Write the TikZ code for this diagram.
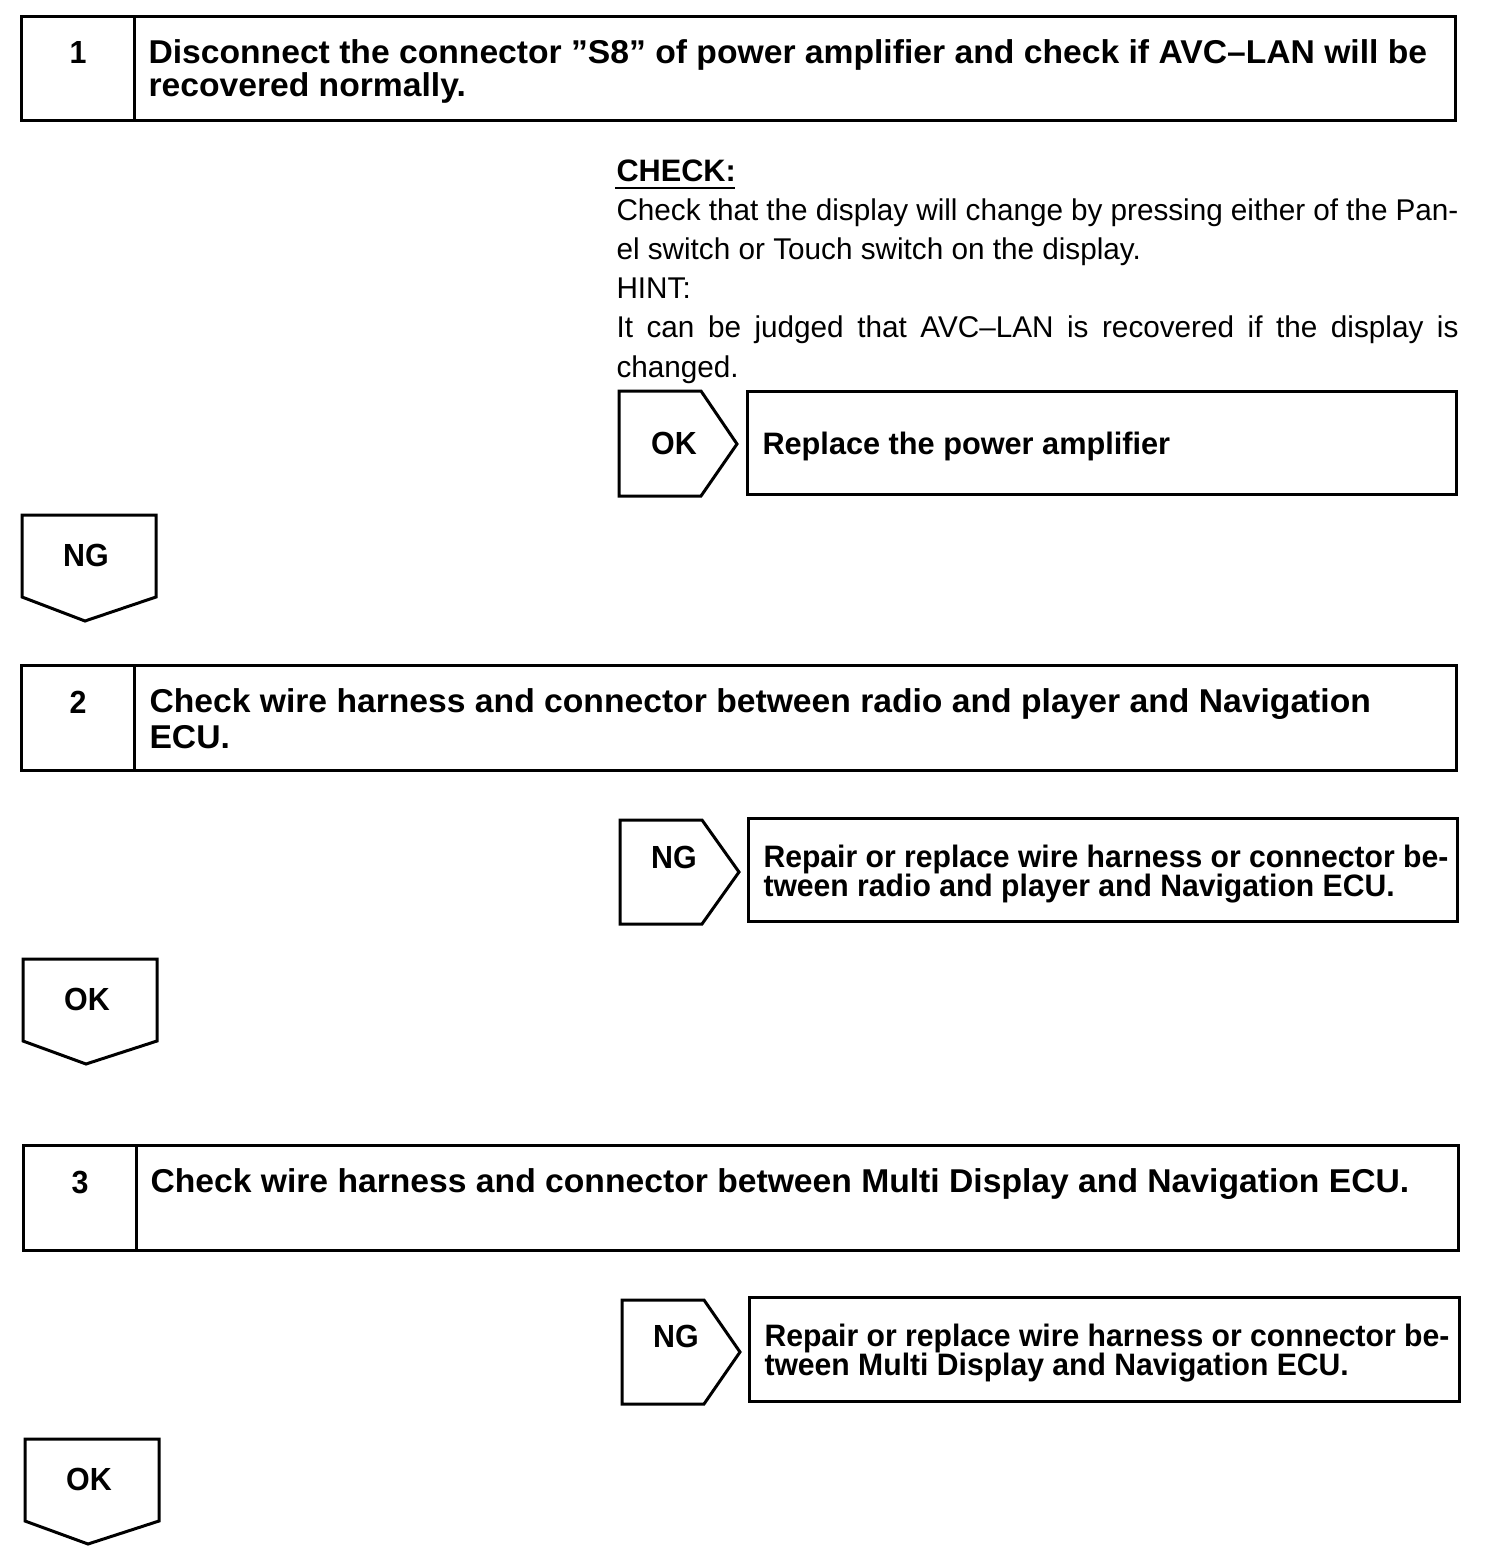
\documentclass[tikz,border=0pt]{standalone}
\usepackage{fontspec}
\setmainfont{Liberation Sans}
\newfontfamily\titlefont[FakeStretch=1.02]{Liberation Sans}
\newfontfamily\labfont[FakeStretch=0.95]{Liberation Sans}
\newfontfamily\boxfont[FakeStretch=0.99]{Liberation Sans}
\newfontfamily\repfont[FakeStretch=0.972]{Liberation Sans}
\newfontfamily\bodyfont[FakeStretch=0.99]{Liberation Sans}
\begin{document}
\begin{tikzpicture}[x=1pt,y=-1pt,line width=3pt,line join=miter]
\tikzset{
  titletext/.style={anchor=base west,inner sep=0pt,font=\titlefont\bfseries\fontsize{33}{31}\selectfont},
  numtext/.style={anchor=base,inner sep=0pt,font=\labfont\bfseries\fontsize{32}{31}\selectfont},
  labtext/.style={anchor=base,inner sep=0pt,font=\labfont\bfseries\fontsize{32}{30}\selectfont},
  boxtext/.style={anchor=base west,inner sep=0pt,font=\boxfont\bfseries\fontsize{31}{30}\selectfont},
  reptext/.style={anchor=base west,inner sep=0pt,font=\repfont\bfseries\fontsize{31}{30}\selectfont},
  bodytext/.style={anchor=base west,inner sep=0pt,font=\bodyfont\fontsize{30}{39}\selectfont},
  frame/.style={draw=black,line width=3pt}
}
\useasboundingbox[fill=white] (0,0) rectangle (1504,1564);

% ---- Step 1
\draw[frame] (21,16) rectangle (1455,120);
\draw[frame] (134,16) -- (134,120);
\node[numtext] (n1) at (78,63) {1};
\node[titletext] (t1a) at (147,63) {Disconnect the connector ”S8” of power amplifier and check if AVC–LAN will be};
\node[titletext] (t1b) at (147,96) {recovered normally.};

% ---- CHECK block
\node[boxtext] (chk) at (615,181) {CHECK:};
\draw[line width=2pt] (615,188) -- (735,188);
\node[bodytext] (b1) at (615,220) {\makebox[842pt][s]{Check that the display will change by pressing either of the Pan-}};
\node[bodytext] (b2) at (615,259) {el switch or Touch switch on the display.};
\node[bodytext] (b3) at (615,298) {HINT:};
\node[bodytext] (b4) at (615,337) {\makebox[842pt][s]{It can be judged that AVC–LAN is recovered if the display is}};
\node[bodytext] (b5) at (615,377) {changed.};

% ---- OK -> Replace
\draw[frame] (619,391) -- (701,391) -- (737,444) -- (701,496) -- (619,496) -- cycle;
\node[labtext] (ok1) at (674,454) {OK};
\draw[frame] (747,391) rectangle (1456,494);
\node[boxtext] (r1) at (761,454) {Replace the power amplifier};

% ---- NG down
\draw[frame] (22,515) -- (156,515) -- (156,597) -- (85,621) -- (22,597) -- cycle;
\node[labtext] (ng1) at (86,566) {NG};

% ---- Step 2
\draw[frame] (21,665) rectangle (1456,770);
\draw[frame] (134,665) -- (134,770);
\node[numtext] (n2) at (78,713) {2};
\node[titletext] (t2a) at (148,712) {Check wire harness and connector between radio and player and Navigation};
\node[titletext] (t2b) at (148,748) {ECU.};

% ---- NG -> Repair (2)
\draw[frame] (620,820) -- (702,820) -- (739,872) -- (702,924) -- (620,924) -- cycle;
\node[labtext] (ng2) at (674,868) {NG};
\draw[frame] (748,818) rectangle (1457,921);
\node[reptext] (r2a) at (762,867) {Repair or replace wire harness or connector be-};
\node[reptext] (r2b) at (762,896) {tween radio and player and Navigation ECU.};

% ---- OK down (2)
\draw[frame] (23,959) -- (157,959) -- (157,1041) -- (86,1064) -- (23,1041) -- cycle;
\node[labtext] (ok2) at (87,1010) {OK};

% ---- Step 3
\draw[frame] (23,1145) rectangle (1458,1250);
\draw[frame] (136,1145) -- (136,1250);
\node[numtext] (n3) at (80,1193) {3};
\node[titletext] (t3a) at (149,1192) {Check wire harness and connector between Multi Display and Navigation ECU.};

% ---- NG -> Repair (3)
\draw[frame] (622,1300) -- (704,1300) -- (740,1352) -- (704,1404) -- (622,1404) -- cycle;
\node[labtext] (ng3) at (676,1347) {NG};
\draw[frame] (749,1297) rectangle (1459,1401);
\node[reptext] (r3a) at (763,1346) {Repair or replace wire harness or connector be-};
\node[reptext] (r3b) at (763,1375) {tween Multi Display and Navigation ECU.};

% ---- OK down (3)
\draw[frame] (25,1439) -- (159,1439) -- (159,1521) -- (88,1544) -- (25,1521) -- cycle;
\node[labtext] (ok3) at (89,1490) {OK};
\end{tikzpicture}
\end{document}
